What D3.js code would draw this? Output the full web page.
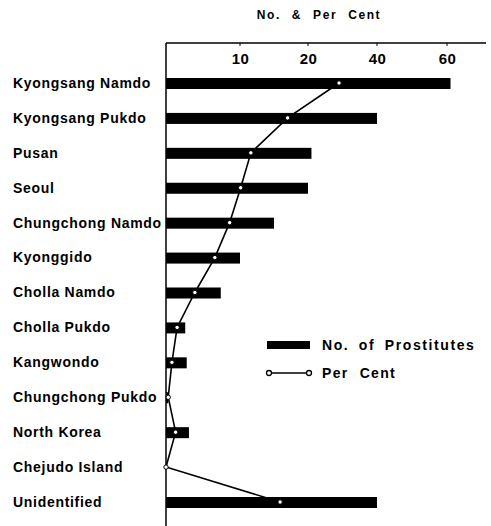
<!DOCTYPE html>
<html>
<head>
<style>
  body { margin: 0; background: #fff; }
  text { font-family: "Liberation Sans", Arial, sans-serif; font-weight: bold; fill: #000; }
</style>
</head>
<body>
<svg width="491" height="526"></svg>
<script src="https://d3js.org/d3.v7.min.js"></script>
<script>
var regions = ["Kyongsang Namdo", "Kyongsang Pukdo", "Pusan", "Seoul", "Chungchong Namdo",
  "Kyonggido", "Cholla Namdo", "Cholla Pukdo", "Kangwondo", "Chungchong Pukdo",
  "North Korea", "Chejudo Island", "Unidentified"];
var numbers = [61, 40, 21, 20, 15, 10, 7.4, 2.6, 2.8, 0.3, 3.1, 0, 40];
var perCent = [29, 17, 11.6, 10.1, 8.6, 6.6, 3.9, 1.5, 0.8, 0.3, 1.3, 0, 15.9];
var tickValues = [10, 20, 40, 60];

var svg = d3.select("svg");

// the printed axis is not evenly spaced: 0,10,20,40,60
var x = d3.scaleLinear()
    .domain([0, 10, 20, 40, 60])
    .range([166, 240, 308, 377, 447]);

var y = d3.scalePoint()
    .domain(regions)
    .range([83, 502]);

// title
svg.append("text")
    .attr("x", 319).attr("y", 19)
    .attr("text-anchor", "middle")
    .style("font-size", "12px")
    .style("letter-spacing", "1.6px")
    .style("word-spacing", "6px")
    .text("No. & Per Cent");

// frame: top line and left line
svg.append("line")
    .attr("x1", 166).attr("x2", 486).attr("y1", 43).attr("y2", 43)
    .attr("stroke", "#000").attr("stroke-width", 1.5);
svg.append("line")
    .attr("x1", 166).attr("x2", 166).attr("y1", 43).attr("y2", 526)
    .attr("stroke", "#000").attr("stroke-width", 1.5);

var axis = d3.axisTop(x).tickValues(tickValues).tickSize(0).tickPadding(0);
var gAxis = svg.append("g").attr("transform", "translate(0,64)").call(axis);
gAxis.select(".domain").remove();
gAxis.selectAll("text")
    .style("font-size", "15px")
    .style("font-weight", "bold")
    .style("letter-spacing", "0.5px")
    .style("font-family", "\"Liberation Sans\", Arial, sans-serif");

// small tick marks under the top line
svg.selectAll(".mtick").data(tickValues).enter().append("line")
    .attr("x1", function(d) { return x(d); })
    .attr("x2", function(d) { return x(d); })
    .attr("y1", 43).attr("y2", 46)
    .attr("stroke", "#000");

// labels
svg.selectAll(".lab").data(regions).enter().append("text")
    .attr("x", 13)
    .attr("y", function(d) { return y(d); })
    .attr("dy", "0.35em")
    .style("font-size", "14px")
    .style("letter-spacing", "0.7px")
    .text(function(d) { return d; });

// bars
svg.selectAll(".bar").data(regions).enter().append("rect")
    .attr("x", x(0))
    .attr("y", function(d) { return y(d) - 5; })
    .attr("height", 11)
    .attr("width", function(d, i) { return x(numbers[i]) - x(0); })
    .attr("fill", "#000");

// per cent line
var line = d3.line()
    .x(function(d, i) { return x(perCent[i]); })
    .y(function(d) { return y(d); });
svg.append("path")
    .datum(regions)
    .attr("d", line)
    .attr("fill", "none")
    .attr("stroke", "#000")
    .attr("stroke-width", 1.6);

svg.selectAll(".pt").data(regions).enter().append("circle")
    .attr("cx", function(d, i) { return x(perCent[i]); })
    .attr("cy", function(d) { return y(d); })
    .attr("r", 2.2)
    .attr("fill", "#fff")
    .attr("stroke", "#000")
    .attr("stroke-width", 1);

// legend
var lg = svg.append("g");
lg.append("rect").attr("x", 267).attr("y", 341).attr("width", 43).attr("height", 8).attr("fill", "#000");
lg.append("text").attr("x", 322).attr("y", 345).attr("dy", "0.35em")
    .style("font-size", "14px").style("letter-spacing", "1.6px").style("word-spacing", "4px")
    .text("No. of Prostitutes");
lg.append("line").attr("x1", 269).attr("x2", 309).attr("y1", 373).attr("y2", 373)
    .attr("stroke", "#000").attr("stroke-width", 1.6);
lg.selectAll("circle").data([269, 309]).enter().append("circle")
    .attr("cx", function(d) { return d; }).attr("cy", 373).attr("r", 2.5)
    .attr("fill", "#fff").attr("stroke", "#000").attr("stroke-width", 1.3);
lg.append("text").attr("x", 322).attr("y", 373).attr("dy", "0.35em")
    .style("font-size", "14px").style("letter-spacing", "1.3px").style("word-spacing", "6px")
    .text("Per Cent");
</script>
</body>
</html>
